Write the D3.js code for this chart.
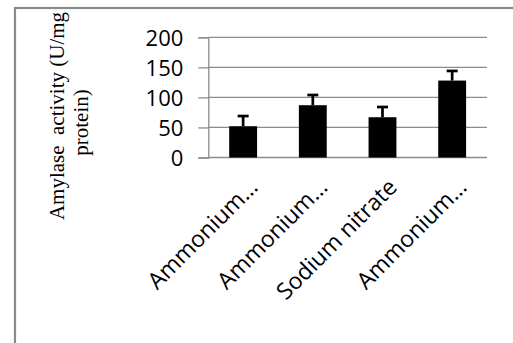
<!DOCTYPE html>
<html>
<head>
<meta charset="utf-8">
<script src="https://cdn.jsdelivr.net/npm/d3@7"></script>
<style>
  body { margin: 0; background: #fff; }
  svg { display: block; }
</style>
</head>
<body>
<div id="chart"></div>
<script>
// chart data
const categories = ["Ammonium\u2026", "Ammonium\u2026", "Sodium nitrate", "Ammonium\u2026"];
const activity = [52, 87, 67, 128];
const errors = [17, 17, 17, 16];
const yTicks = [0, 50, 100, 150, 200];
const yTitle = ["Amylase  activity (U/mg", "protein)"];

const width = 513, height = 343;
const plot = { left: 208.3, right: 487, top: 37.3, bottom: 157.5 };

const svg = d3.select('#chart')
  .append('svg')
  .attr('width', width)
  .attr('height', height);

// outer chart frame (only top/left visible in the crop)
svg.append('rect')
  .attr('x', 15)
  .attr('y', 8)
  .attr('width', 600)
  .attr('height', 400)
  .attr('fill', 'none')
  .attr('stroke', '#8a8a8a')
  .attr('stroke-width', 2.2);

const x = d3.scaleBand()
  .domain(d3.range(categories.length))
  .range([plot.left, plot.right])
  .paddingInner(0.6)
  .paddingOuter(0.3);

const y = d3.scaleLinear()
  .domain([0, 200])
  .range([plot.bottom, plot.top]);

// gridlines
svg.append('g')
  .selectAll('line')
  .data(yTicks)
  .enter()
  .append('line')
  .attr('x1', plot.left)
  .attr('x2', plot.right)
  .attr('y1', d => y(d))
  .attr('y2', d => y(d))
  .attr('stroke', '#8c8c8c')
  .attr('stroke-width', 1.3);

// y axis
const yAxis = svg.append('g')
  .attr('transform', `translate(${plot.left},0)`)
  .call(d3.axisLeft(y).tickValues(yTicks).tickSize(10).tickPadding(15));
yAxis.select('.domain').attr('stroke', '#8c8c8c').attr('stroke-width', 1.3);
yAxis.selectAll('.tick line').attr('stroke', '#8c8c8c').attr('stroke-width', 1.3);
yAxis.selectAll('.tick text')
  .attr('fill', '#000')
  .style('font-family', '"Open Sans", sans-serif')
  .style('font-size', '22px')
  .attr('dy', '0.36em');

// bars
svg.append('g')
  .selectAll('rect')
  .data(activity)
  .enter()
  .append('rect')
  .attr('x', (d, i) => x(i))
  .attr('y', d => y(d))
  .attr('width', x.bandwidth())
  .attr('height', d => y(0) - y(d))
  .attr('fill', '#000');

// error bars (upper only)
const err = svg.append('g')
  .attr('stroke', '#000')
  .attr('stroke-width', 2.7);
activity.forEach((v, i) => {
  const cx = x(i) + x.bandwidth() / 2;
  err.append('line')
    .attr('x1', cx).attr('x2', cx)
    .attr('y1', y(v)).attr('y2', y(v + errors[i]));
  err.append('line')
    .attr('x1', cx - 5.5).attr('x2', cx + 5.5)
    .attr('y1', y(v + errors[i])).attr('y2', y(v + errors[i]));
});

// category labels, rotated -45
svg.append('g')
  .selectAll('text')
  .data(categories)
  .enter()
  .append('text')
  .attr('transform', (d, i) => {
    const cx = x(i) + x.bandwidth() / 2;
    return `translate(${cx + 16},${plot.bottom + 31}) rotate(-45)`;
  })
  .attr('text-anchor', 'end')
  .style('font-family', '"Open Sans", sans-serif')
  .style('font-size', '23px')
  .text(d => d);

// y title, two lines
svg.append('text')
  .attr('transform', 'translate(63.5,116) rotate(-90)')
  .attr('text-anchor', 'middle')
  .style('font-family', '"Liberation Serif", "Times New Roman", serif')
  .style('font-size', '21px')
  .style('white-space', 'pre')
  .text(yTitle[0]);

svg.append('text')
  .attr('transform', 'translate(87.5,122.5) rotate(-90)')
  .attr('text-anchor', 'middle')
  .style('font-family', '"Liberation Serif", "Times New Roman", serif')
  .style('font-size', '21px')
  .text(yTitle[1]);
</script>
</body>
</html>
